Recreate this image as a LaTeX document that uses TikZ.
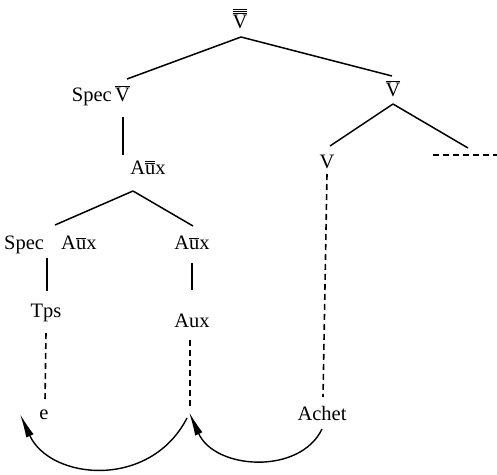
\documentclass[tikz,border=0pt]{standalone}
\usepackage{fontspec}
\setmainfont{Liberation Serif}
\usetikzlibrary{arrows.meta}
% bar-level macros for X-bar labels
\newcommand{\barI}[1]{$\overline{\hbox{#1}}$}
\newcommand{\barII}[1]{$\overline{\overline{\hbox{#1}}}$}
\newcommand{\barIII}[1]{$\overline{\overline{\overline{\hbox{#1}}}}$}
\begin{document}
\begin{tikzpicture}[x=1pt,y=-1pt,
  lab/.style={inner sep=1pt, font=\fontsize{20.5}{23}\selectfont},
  branch/.style={line width=1.5pt},
  trace/.style={line width=1.6pt, dash pattern=on 6pt off 4pt},
  move/.style={line width=1.4pt, -{Latex[length=24pt,width=8pt]}}]
\useasboundingbox (0,0) rectangle (497,474);

% nodes
\node[lab,anchor=base] (top) at (240,28) {\barIII{V}};
\node[lab,anchor=base east] (specV) at (113,101) {Spec};
\node[lab,anchor=base west] (vbarL) at (114,101) {\barI{V}};
\node[lab,anchor=base] (aux2) at (148,174) {A\barII{u}x};
\node[lab,anchor=base west] (specA) at (3,249) {Spec};
\node[lab,anchor=base west] (aux1L) at (60,249) {A\barI{u}x};
\node[lab,anchor=base] (aux1R) at (192,249) {A\barI{u}x};
\node[lab,anchor=base] (tps) at (46,317) {Tps};
\node[lab,anchor=base] (aux0) at (192,327) {Aux};
\node[lab,anchor=base] (e) at (44,419) {e};
\node[lab,anchor=base] (vbarR) at (393,96) {\barI{V}};
\node[lab,anchor=base] (v) at (327,168) {V};
\node[lab,anchor=base] (achet) at (322,420) {Achet};

% branch points and loose ends
\coordinate (c0) at (241,37);
\coordinate (c1) at (133,191);
\coordinate (c2) at (393,104);
\coordinate (rEnd) at (468,148);
\coordinate (dA) at (433,155);
\coordinate (dB) at (497,155);

% solid branches
\draw[branch] (c0) -- (127,79);
\draw[branch] (c0) -- (392,76);
\draw[branch] (123,117) -- (123,155);
\draw[branch] (c1) -- (55,225);
\draw[branch] (c1) -- (193,226);
\draw[branch] (47,258) -- (47,291);
\draw[branch] (192,263) -- (192,290);
\draw[branch] (c2) -- (330,146);
\draw[branch] (c2) -- (rEnd);

% dashed trace lines
\draw[trace] (46,333) -- (45,401);
\draw[trace] (190,340) -- (190,406);
\draw[trace] (327,174) -- (323,397);
\draw[trace] (dA) -- (dB);

% movement arrows
\draw[move] (187,418) .. controls (150,490) and (50,480) .. (20,414);
\draw[move] (322,429) .. controls (300,475) and (215,470) .. (189,412);
\end{tikzpicture}
\end{document}
